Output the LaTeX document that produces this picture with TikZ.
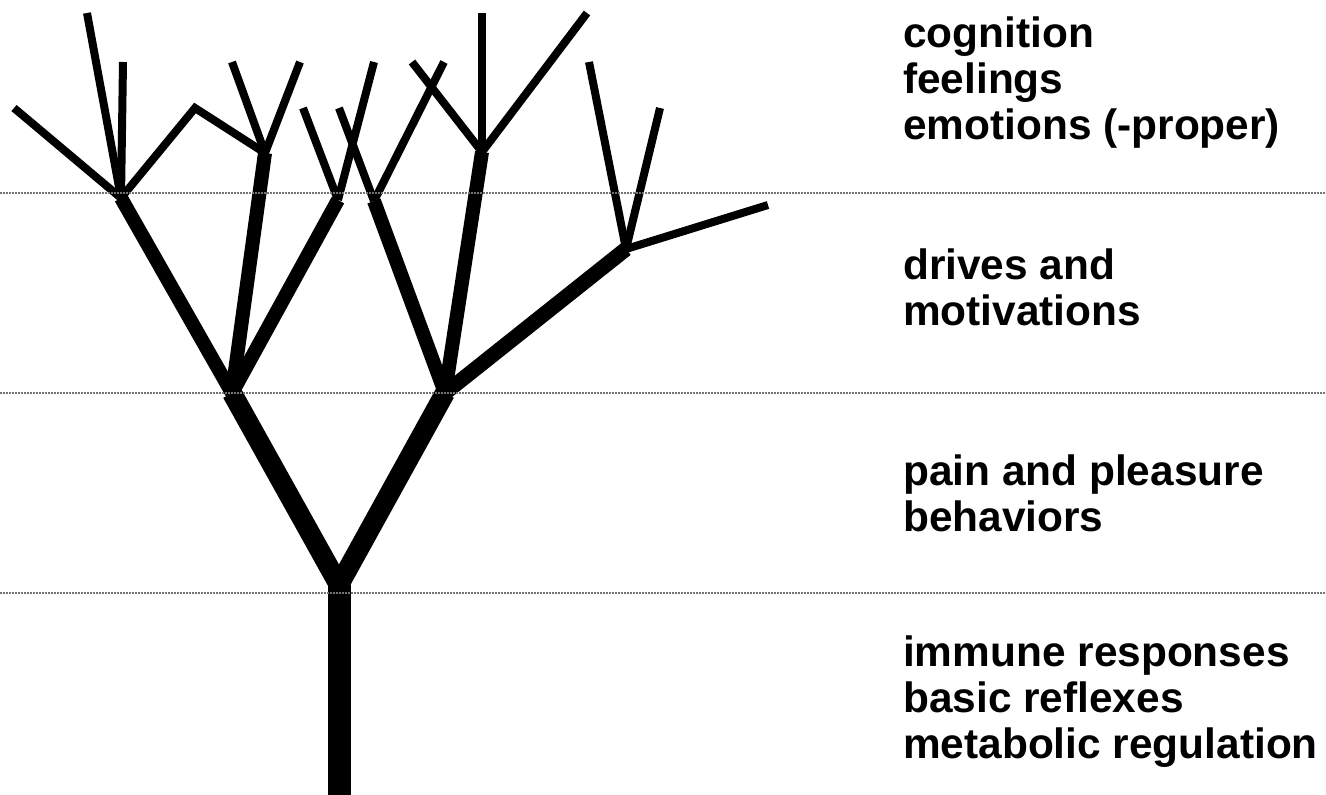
\documentclass[tikz,border=0pt]{standalone}
\usepackage{fontspec}
\setmainfont{Liberation Sans}
\begin{document}
\begin{tikzpicture}[x=1pt,y=-1pt,
  trunkline/.style={line width=23pt,line cap=butt},
  limb/.style={line width=20pt,line cap=butt},
  bough/.style={line width=14pt,line cap=butt,line join=miter},
  twig/.style={line width=8pt,line cap=butt,line join=miter},
  levelline/.style={draw=black!55,line width=2pt,dash pattern=on 1.5pt off 1.5pt},
  levellabel/.style={anchor=base west,align=left,inner sep=0pt,
    font=\bfseries\fontsize{42.4}{46}\selectfont}]
\useasboundingbox (0,0) rectangle (1326,795);

% tree joints
\coordinate (base) at (339,800);
\coordinate (fork) at (339,585);
\coordinate (l1) at (232,393);
\coordinate (r1) at (445,393);
\coordinate (a) at (121,198);
\coordinate (b) at (265,153);
\coordinate (c) at (338,200);
\coordinate (d) at (374,201);
\coordinate (e) at (482,152);
\coordinate (g) at (626,249);
\coordinate (k) at (195,108);

% tips
\coordinate (a1) at (14,108);
\coordinate (a2) at (87,13);
\coordinate (a3) at (123,62);
\coordinate (b1) at (232,62);
\coordinate (b2) at (300,62);
\coordinate (c1) at (303,108);
\coordinate (c2) at (374,62);
\coordinate (d1) at (339,108);
\coordinate (d2) at (444,62);
\coordinate (e1) at (482,13);
\coordinate (e2) at (587,13);
\coordinate (e3) at (412,62);
\coordinate (g1) at (589,62);
\coordinate (g2) at (660,108);
\coordinate (g3) at (768,205);

% trunk and main limbs
\draw[trunkline] (base) -- (fork);
\draw[limb] (fork) -- (l1);
\draw[limb] (fork) -- (r1);

% boughs
\draw[bough] (l1) -- (a);
\draw[bough] (l1) -- (b);
\draw[bough] (l1) -- (c);
\draw[bough] (r1) -- (d);
\draw[bough] (r1) -- (e);
\draw[bough,line width=15pt] (r1) -- (g);

% twigs
\draw[twig] (a) -- (a1);
\draw[twig] (a) -- (a2);
\draw[twig] (a) -- (a3);
\draw[twig] (a) -- (k) -- (b);
\draw[twig] (b) -- (b1);
\draw[twig] (b) -- (b2);
\draw[twig] (c) -- (c1);
\draw[twig] (c) -- (c2);
\draw[twig] (d) -- (d1);
\draw[twig] (d) -- (d2);
\draw[twig] (e) -- (e1);
\draw[twig] (e) -- (e2);
\draw[twig] (e) -- (e3);
\draw[twig] (g) -- (g1);
\draw[twig] (g) -- (g2);
\draw[twig] (g) -- (g3);

% level separators
\draw[levelline] (0,192.5) -- (1326,192.5);
\draw[levelline] (0,392.5) -- (1326,392.5);
\draw[levelline] (0,592.5) -- (1326,592.5);

% level labels (anchored on the baseline of their last line)
\node[levellabel] (top) at (903,139) {cognition\\feelings\\emotions (-proper)};
\node[levellabel] (drives) at (903,325) {drives and\\motivations};
\node[levellabel] (pain) at (903,531) {pain and pleasure\\behaviors};
\node[levellabel] (basic) at (903,758) {immune responses\\basic reflexes\\metabolic regulation};
\end{tikzpicture}
\end{document}
